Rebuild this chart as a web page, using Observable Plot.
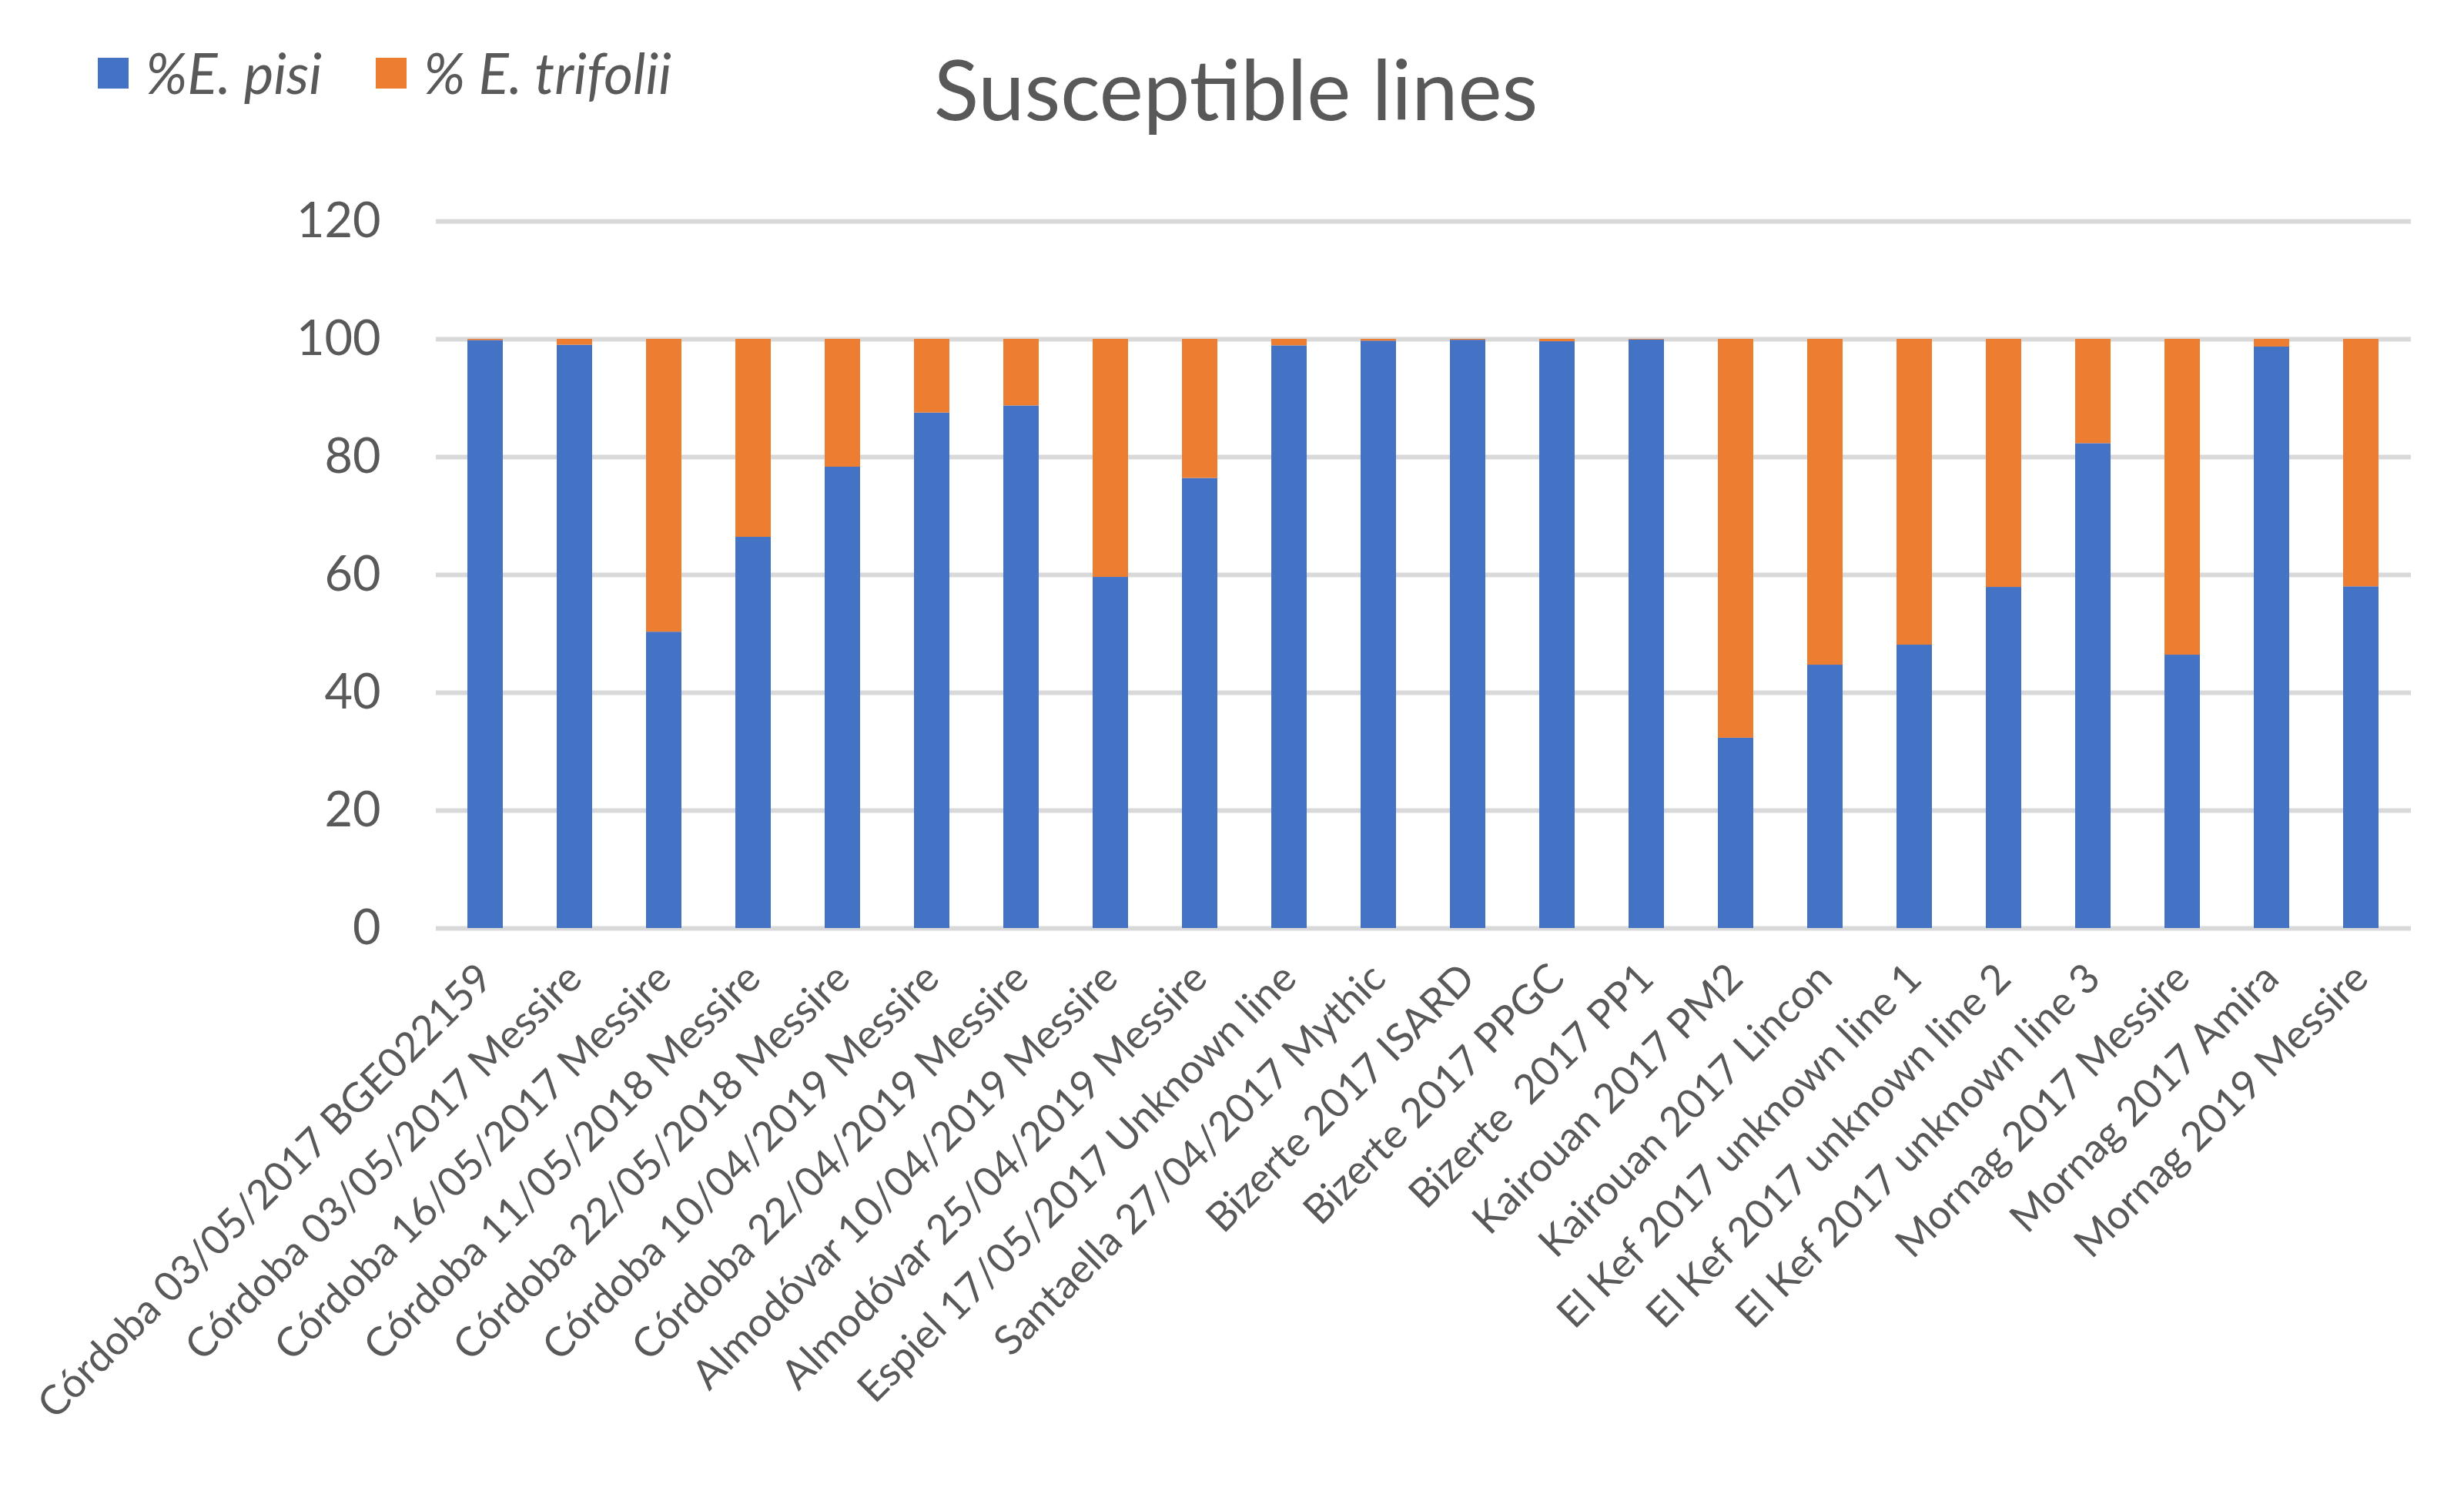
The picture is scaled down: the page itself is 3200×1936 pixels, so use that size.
<!DOCTYPE html>
<html>
<head>
<meta charset="utf-8">
<script src="https://cdn.jsdelivr.net/npm/d3@7"></script>
<script src="https://cdn.jsdelivr.net/npm/@observablehq/plot@0.6"></script>
<style>
  html, body { margin: 0; padding: 0; background: #ffffff; }
  #wrap { position: relative; width: 3200px; height: 1936px; overflow: hidden; font-family: Lato, "Open Sans", sans-serif; color: #595959; }
  #title { position: absolute; left: 0; width: 3210px; top: 60px; text-align: center; font-size: 108px; line-height: 1; white-space: nowrap; }
  .leg { position: absolute; top: 58px; display: flex; align-items: center; font-style: italic; font-size: 73px; line-height: 1; white-space: pre; }
  .sw { width: 40px; height: 40px; margin-right: 22px; display: inline-block; }
  #chart { position: absolute; left: 0; top: 200px; }
  #chart svg text { white-space: pre; }
</style>
</head>
<body>
<div id="wrap">
  <div id="legend"></div>
  <div id="title">Susceptible lines</div>
  <div id="chart"></div>
</div>
<script>
const categories = [
  "Córdoba 03/05/2017 BGE022159",
  "Córdoba 03/05/2017 Messire",
  "Córdoba 16/05/2017 Messire",
  "Córdoba 11/05/2018 Messire",
  "Córdoba 22/05/2018 Messire",
  "Córdoba 10/04/2019 Messire",
  "Córdoba 22/04/2019 Messire",
  "Almodóvar 10/04/2019 Messire",
  "Almodóvar 25/04/2019 Messire",
  "Espiel 17/05/2017 Unknown line",
  "Santaella 27/04/2017 Mythic",
  "Bizerte 2017 ISARD",
  "Bizerte 2017 PPGC",
  "Bizerte  2017 PP1",
  "Kairouan 2017 PM2",
  "Kairouan 2017 Lincon",
  "El Kef 2017 unknown line 1",
  "El Kef 2017 unknown line 2",
  "El Kef 2017 unknown line 3",
  "Mornag 2017 Messire",
  "Mornag 2017 Amira",
  "Mornag 2019 Messire"
];
const pisi =     [99.8, 99.0, 50.3, 66.4, 78.3, 87.5, 88.7, 59.6, 76.4, 98.9, 99.7, 99.85, 99.6, 99.9, 32.3, 44.7, 48.1, 57.9, 82.3, 46.4, 98.7, 58.0];
const trifolii = [0.2,  1.0,  49.7, 33.6, 21.7, 12.5, 11.3, 40.4, 23.6, 1.1,  0.3,  0.15,  0.4,  0.1,  67.7, 55.3, 51.9, 42.1, 17.7, 53.6, 1.3,  42.0];
const seriesNames = ["%E. pisi", "% E. trifolii"];
const seriesColors = ["#4472C4", "#ED7D31"];
const yTicks = [0, 20, 40, 60, 80, 100, 120];

const rows = [];
categories.forEach((c, i) => {
  rows.push({cat: c, series: seriesNames[0], value: pisi[i]});
  rows.push({cat: c, series: seriesNames[1], value: trifolii[i]});
});

// legend
const legend = document.getElementById("legend");
const legendLeft = [127, 488];
seriesNames.forEach((s, i) => {
  const item = document.createElement("div");
  item.className = "leg";
  item.style.left = legendLeft[i] + "px";
  const sw = document.createElement("span");
  sw.className = "sw";
  sw.style.background = seriesColors[i];
  item.appendChild(sw);
  const t = document.createElement("span");
  t.textContent = s;
  item.appendChild(t);
  legend.appendChild(item);
});

const chart = Plot.plot({
  width: 3200,
  height: 1736,
  marginTop: 87,
  marginBottom: 731,
  marginLeft: 566,
  marginRight: 69,
  style: {fontFamily: "Lato, 'Open Sans', sans-serif", fontSize: "62px", color: "#595959", background: "transparent"},
  x: {domain: categories, paddingInner: 0.6, paddingOuter: 0.3, axis: null},
  y: {domain: [0, 120], axis: null},
  color: {domain: seriesNames, range: seriesColors},
  marks: [
    Plot.gridY(yTicks, {stroke: "#d9d9d9", strokeOpacity: 1, strokeWidth: 6}),
    Plot.axisY(yTicks, {tickSize: 0, tickPadding: 72, fontSize: 63, fill: "#595959", label: null}),
    Plot.barY(rows, {x: "cat", y: "value", fill: "series", order: seriesNames}),
    Plot.text(categories, {x: d => d, frameAnchor: "bottom", dy: 56, rotate: -45, textAnchor: "end", lineAnchor: "middle", fontSize: 53, fill: "#595959"})
  ]
});
document.getElementById("chart").appendChild(chart);
</script>
</body>
</html>
